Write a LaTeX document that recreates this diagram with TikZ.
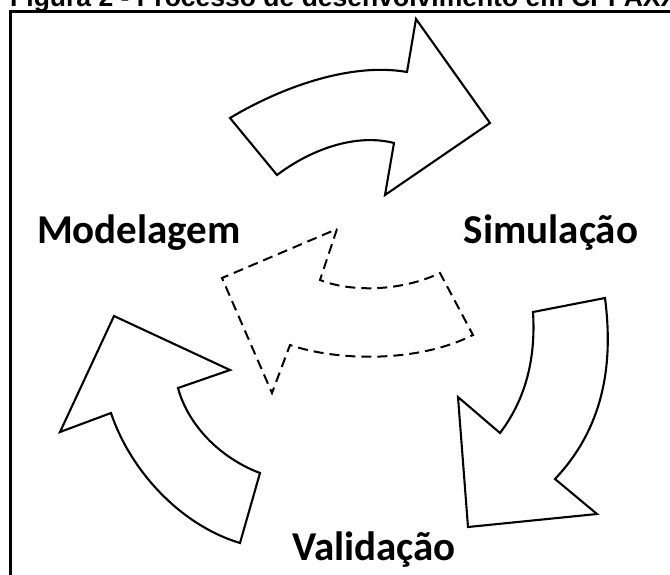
\documentclass[tikz,border=0pt]{standalone}
\usepackage{fontspec}
\newfontfamily\labelfont{Carlito}
\newfontfamily\titlefont{Liberation Sans}
\usetikzlibrary{positioning}

\begin{document}
\begin{tikzpicture}[x=1pt,y=-1pt,
  cyclearrow/.style={draw=black,line width=2.1pt,line join=miter},
  backarrow/.style={cyclearrow,line width=2pt,dash pattern=on 10pt off 6pt},
  stagelabel/.style={font=\labelfont\bfseries\fontsize{41}{45}\selectfont,inner sep=0pt}]
  \useasboundingbox (0,0) rectangle (670,574);
  \clip (0,0) rectangle (670,574);
  \node[anchor=base west,inner sep=0pt,font=\titlefont\bfseries\fontsize{26.5}{30}\selectfont]
    (titulo) at (10,6) {Figura 2 - Processo de desenvolvimento em CPPAXXX};
  \draw[line width=3pt] (10,600) |- (700,11);

  \node[stagelabel] (modelagem) at (139,233) {Modelagem};
  \node[stagelabel] (simulacao) at (551,233) {Simulação};
  \node[stagelabel] (validacao) at (374,550) {Validação};

  % Modelagem -> Simulacao
  \draw[cyclearrow] (230,118) .. controls (280,88) and (350,62) .. (407,72)
    -- (416,19) -- (490,123) -- (385,195) -- (394,143)
    .. controls (355,133) and (310,150) .. (277,175) -- cycle;
  % Simulacao -> Validacao
  \draw[cyclearrow] (533,312) -- (605,298)
    .. controls (613,360) and (606,425) .. (555,479)
    -- (597,514) -- (468,527) -- (458,397) -- (500,433)
    .. controls (525,400) and (536,360) .. cycle;
  % Validacao -> Modelagem
  \draw[cyclearrow] (114,316) -- (230,370) -- (178,388)
    .. controls (188,425) and (220,458) .. (260,473)
    -- (240,543) .. controls (180,525) and (130,470) .. (111,413)
    -- (60,432) -- cycle;
  % retorno
  \draw[backarrow] (337,229) -- (320,280)
    .. controls (350,292) and (400,292) .. (440,273)
    -- (473,335) .. controls (420,362) and (340,362) .. (290,345)
    -- (272,393) -- (222,278) -- cycle;
\end{tikzpicture}
\end{document}
